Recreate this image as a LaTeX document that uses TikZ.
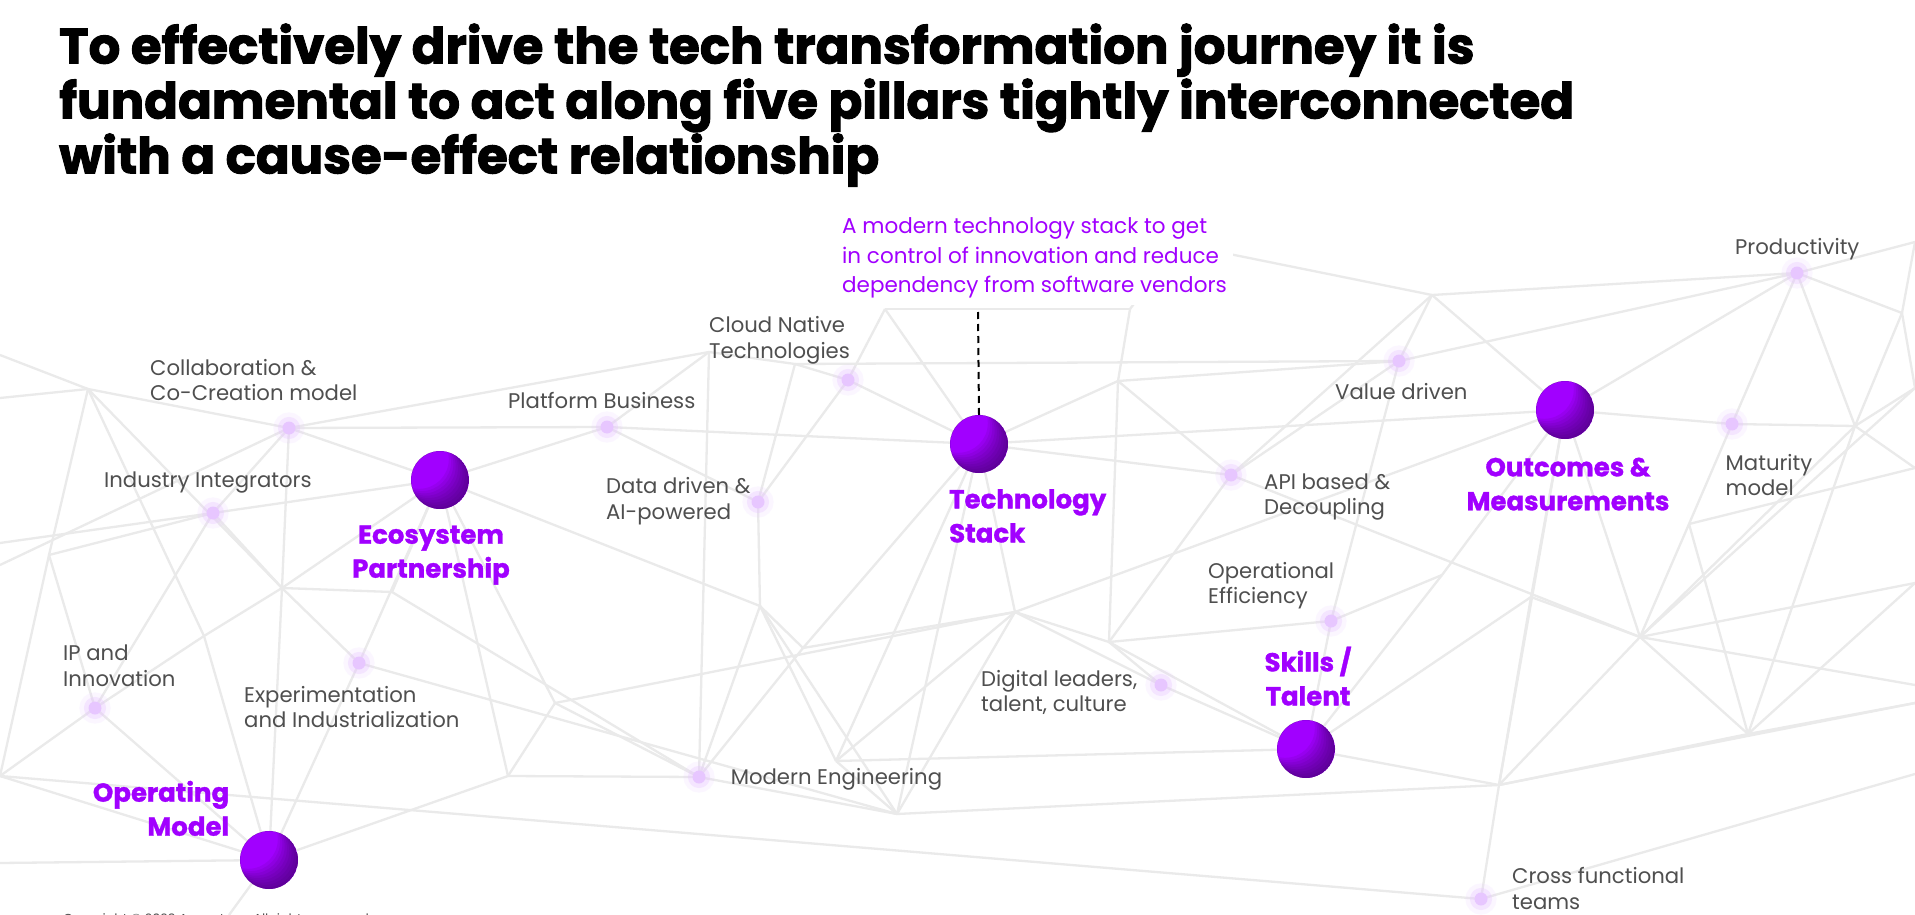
\documentclass[tikz,border=0pt]{standalone}
\usepackage{fontspec}
\setmainfont{Poppins}
\newfontfamily\titlefont{Poppins}[BoldFeatures={FakeBold=2}]
\newfontfamily\pillarfont{Poppins}[BoldFeatures={FakeBold=1.2}]
\usetikzlibrary{backgrounds}
\definecolor{acc}{HTML}{A100FF}
\definecolor{pba}{HTML}{A100FF}
\definecolor{pbc}{HTML}{30004F}
\definecolor{txtgray}{HTML}{4F4F4F}
\definecolor{netc}{HTML}{EAEAEA}
\definecolor{dotc}{HTML}{E7C6FF}
\begin{document}
\begin{tikzpicture}[x=1pt,y=-1pt,
  pillar/.style={circle, minimum size=58pt, inner sep=0pt, fill=pba,
     path picture={\begin{scope}[shift={(path picture bounding box.center)}]
       \foreach \k in {1,...,9}{\fill[pbc, opacity=0.085, even odd rule] (0,0) circle (29pt) (-2.3*\k,-2.3*\k) circle (29.5pt);}
       \end{scope}}},
  glow/.style={circle, minimum size=13pt, inner sep=0pt, fill=dotc,
     preaction={draw=dotc, line width=18pt, opacity=0.15},
     preaction={draw=dotc, line width=9pt, opacity=0.35}},
  net/.style={draw=netc, line width=2.3pt},
  plabel/.style={text=acc, font=\pillarfont\bfseries\fontsize{26}{34}\selectfont, inner sep=0pt},
  glabel/.style={text=txtgray, font=\fontsize{21.2}{25.5}\selectfont, inner sep=0pt, align=left, anchor=base west},
  ttl/.style={font=\titlefont\bfseries\fontsize{49.8}{55}\selectfont, inner sep=0pt, anchor=base west}
]
\begin{scope}[on background layer]
\fill[white] (0,0) rectangle (1915,915);
\end{scope}
\useasboundingbox (0,0) rectangle (1915,915);

% title
\node[ttl] (t1l) at (59,63.5) {To effectively drive the tech transformation journey it is};
\node[ttl] (t2l) at (59,118.5) {fundamental to act along five pillars tightly interconnected};
\node[ttl] (t3l) at (59,173.4) {with a cause-effect relationship};

% network vertices
\coordinate (hA) at (88,389);
\coordinate (hB) at (49,555);
\coordinate (h1) at (282,588);
\coordinate (h2) at (204,636);
\coordinate (h3) at (392,592);
\coordinate (h4) at (555,703);
\coordinate (h5) at (508,776);
\coordinate (m1) at (709,352);
\coordinate (m2) at (795,364);
\coordinate (m3) at (760,606);
\coordinate (m5) at (803,648);
\coordinate (m6) at (1015,612);
\coordinate (m7) at (1109,642);
\coordinate (m8) at (1118,381);
\coordinate (m9) at (1130,309);
\coordinate (m10) at (885,309);
\coordinate (m11) at (836,761);
\coordinate (m12) at (897,814);
\coordinate (tA) at (1180,244);
\coordinate (r1) at (1432,295);
\coordinate (r2) at (1855,426);
\coordinate (r3) at (1902,313);
\coordinate (r4) at (1640,637);
\coordinate (r5) at (1689,524);
\coordinate (r6) at (1499,785);
\coordinate (r7) at (1748,734);
\coordinate (r8) at (1442,575);
\coordinate (r9) at (1531,597);
\coordinate (eLa) at (0,355);
\coordinate (eLb) at (0,398);
\coordinate (eLc) at (0,543);
\coordinate (eLd) at (0,565);
\coordinate (eLe) at (0,776);
\coordinate (eLf) at (0,863);
\coordinate (eBa) at (229,915);
\coordinate (eRa) at (1915,242);
\coordinate (eRb) at (1915,388);
\coordinate (eRc) at (1915,468);
\coordinate (eRd) at (1915,583);
\coordinate (eRe) at (1915,685);
\coordinate (eRf) at (1915,703);
\coordinate (eRg) at (1915,774);

% glow dots
\node[glow] (C) at (289,428) {};
\node[glow] (I) at (213,513) {};
\node[glow] (P) at (607,427) {};
\node[glow] (CN) at (848,380) {};
\node[glow] (D) at (758,502) {};
\node[glow] (V) at (1399,361) {};
\node[glow] (API) at (1231,475) {};
\node[glow] (PR) at (1797,273) {};
\node[glow] (MM) at (1732,424) {};
\node[glow] (OE) at (1331,621) {};
\node[glow] (DL) at (1161,685) {};
\node[glow] (M) at (699,777) {};
\node[glow] (CF) at (1481,899) {};
\node[glow] (IP) at (95,708) {};
\node[glow] (X) at (359,663) {};

% pillars
\node[pillar] (E) at (440,480) {};
\node[pillar] (T) at (979,444) {};
\node[pillar] (OM) at (1565,410) {};
\node[pillar] (S) at (1306,749) {};
\node[pillar] (O) at (269,860) {};

% network edges
\begin{scope}[on background layer]
\foreach \a/\b in {eLa/hA, eLb/hA, eLc/I, eLd/C, hA/C, hA/hB, hA/h1, hA/h2,
  hB/IP, hB/I, hB/eLe, C/I, C/E, C/h1, C/P, C/m1, I/E, I/h1, I/IP,
  eLe/IP, IP/h2, h2/h1, h1/E, h2/O, IP/O, eLe/O, eLf/O, O/eBa,
  h1/O, h1/X, h1/h3, X/E, X/O, X/m12, E/h3, E/h4, E/h5, E/m3, E/P,
  h3/M, h4/M, h4/m6, h4/h5, h5/M, h5/O, P/T, P/m1, P/D, eLe/CF,
  m1/m2, m1/M, m2/CN, m2/D, m2/V, CN/T, CN/D, CN/m10, m10/T, m10/m9,
  D/m3, m3/M, m3/m12, m3/m11, m5/T, m5/M, m5/m6, m5/m3,
  T/m8, T/API, T/m6, T/m11, T/m12, T/OM,
  m8/m9, m8/API, m8/V, m8/m7, m9/tA, m6/m7, m6/m12, m6/DL, m6/m11, m6/OM,
  m7/DL, m7/API, m7/OE, m7/S, M/m12, m11/S, m11/m12, m12/r6, DL/S,
  API/r1, API/V, API/r4, tA/r1,
  r1/PR, r1/V, r1/OM, V/OE, V/PR, OM/PR, OM/MM, OM/r4, OM/r8, OM/r6, OM/r9,
  PR/MM, PR/r2, PR/r3, PR/eRa, MM/r2, MM/r5, r2/r3, r2/eRb, r2/r4, r2/eRc, r2/r7,
  r3/eRa, r3/eRb, r4/r5, r4/eRb, r4/eRe, r4/eRd, r4/r7, r4/r6, r4/r9,
  r5/eRc, r5/r7, r6/CF, r6/S, r6/r7, r6/eRf, r6/r9, r7/eRf, r7/eRd,
  CF/eRg, OE/S, OE/r8, S/r8, S/r9}
  \draw[net] (\a.center) -- (\b.center);
\end{scope}

% dashed connector
\coordinate (dtop) at (978,312);
\draw[dash pattern=on 7pt off 5pt, line width=2pt] (dtop) -- (T.north);

% description
\node[anchor=base west, text=acc, fill=white, inner xsep=6pt, inner ysep=7pt, align=left,
  font=\fontsize{21.5}{29.3}\selectfont] (desc) at (836,292.4)
  {A modern technology stack to get\\in control of innovation and reduce\\dependency from software vendors};

% pillar labels
\node[plabel, anchor=base, align=center] (Elab) at (431,577.7) {Ecosystem\\Partnership};
\node[plabel, anchor=base west, align=left] (Tlab) at (949,542.4) {Technology\\Stack};
\node[plabel, anchor=base, align=center] (OMlab) at (1568,510.3) {Outcomes \&\\Measurements};
\node[plabel, anchor=base, align=center] (Slab) at (1308,705.4) {Skills /\\Talent};
\node[plabel, anchor=base east, align=right] (Olab) at (229.4,835.7) {Operating\\Model};

% gray labels
\node[glabel] (Clab) at (150,400.7) {Collaboration \&\\Co-Creation model};
\node[glabel] (Ilab) at (104,487) {Industry Integrators};
\node[glabel] (Plab) at (508,408) {Platform Business};
\node[glabel] (CNlab) at (709,358) {Cloud Native\\Technologies};
\node[glabel] (Dlab) at (606,519) {Data driven \&\\AI-powered};
\node[glabel] (Vlab) at (1335,399.5) {Value driven};
\node[glabel] (APIlab) at (1264,514.8) {API based \&\\Decoupling};
\node[glabel] (PRlab) at (1735,254.6) {Productivity};
\node[glabel] (MMlab) at (1725.5,495.7) {Maturity\\model};
\node[glabel] (OElab) at (1208,603.8) {Operational\\Efficiency};
\node[glabel] (DLlab) at (981,711.9) {Digital leaders,\\talent, culture};
\node[glabel] (Mlab) at (730.6,784.7) {Modern Engineering};
\node[glabel] (CFlab) at (1512,909) {Cross functional\\teams};
\node[glabel] (IPlab) at (63,686.2) {IP and\\Innovation};
\node[glabel] (Xlab) at (244,727.5) {Experimentation\\and Industrialization};

\node[anchor=base west, text=txtgray, inner sep=0pt, font=\fontsize{13}{15}\selectfont] (copy) at (63,923) {Copyright © 2023 Accenture. All rights reserved.};
\end{tikzpicture}
\end{document}
